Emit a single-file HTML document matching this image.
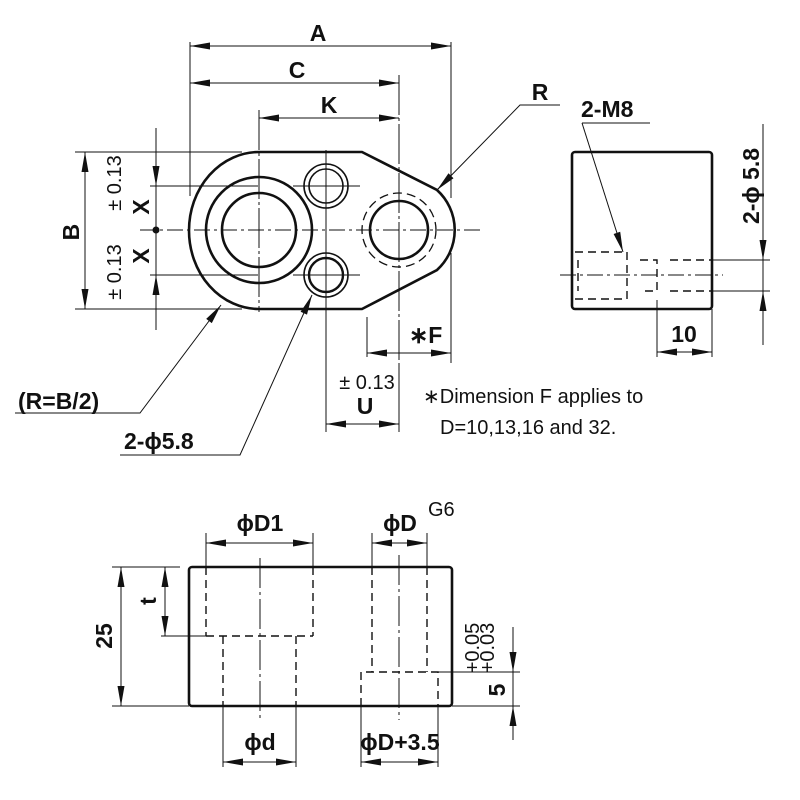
<!DOCTYPE html>
<html><head><meta charset="utf-8"><style>
html,body{margin:0;padding:0;background:#fff}
svg{display:block}
text{font-family:"Liberation Sans",Arial,sans-serif;fill:#111}
.b{font-weight:bold;font-size:23px}
.n{font-size:20px}
</style></head><body>
<svg width="800" height="800" viewBox="0 0 800 800" xmlns="http://www.w3.org/2000/svg">
<g stroke="#111" fill="none">
<g stroke-width="1">
<line x1="190" y1="42" x2="190" y2="196"/>
<line x1="451" y1="42" x2="451" y2="198"/>
<line x1="451" y1="253" x2="451" y2="363"/>
<line x1="259" y1="110" x2="259" y2="312" stroke-dasharray="40,3,3,3"/>
<line x1="399" y1="75" x2="399" y2="365" stroke-dasharray="40,3,3,3"/>
<line x1="326" y1="150" x2="326" y2="432"/>
<line x1="367" y1="317" x2="367" y2="357"/>
<line x1="399" y1="365" x2="399" y2="432"/>
<line x1="75" y1="152" x2="242" y2="152"/>
<line x1="75" y1="309" x2="242" y2="309"/>
<line x1="150" y1="186" x2="258" y2="186"/>
<line x1="150" y1="275" x2="258" y2="275"/>
<line x1="293" y1="186" x2="360" y2="186"/>
<line x1="293" y1="275" x2="360" y2="275"/>
<line x1="140" y1="230" x2="480" y2="230" stroke-dasharray="16,4,3,4"/>
<line x1="190" y1="46" x2="451" y2="46"/>
<line x1="190" y1="83" x2="399" y2="83"/>
<line x1="259" y1="118" x2="399" y2="118"/>
<line x1="85" y1="152" x2="85" y2="309"/>
<line x1="156" y1="128" x2="156" y2="330"/>
<line x1="367" y1="353" x2="451" y2="353"/>
<line x1="326" y1="424" x2="399" y2="424"/>
<polyline points="560,105 520,105 437,190"/>
<polyline points="15,413 140,413 221,305"/>
<polyline points="120,455 240,455 312,295"/>
</g>
<path d="M259,152 L362,152 L437,190 A54,54 0 0 1 437,270 L362,309 L259,309 A70,78.5 0 1 1 259,152 Z" stroke-width="2.6"/>
<circle cx="259" cy="230" r="53" stroke-width="2.6"/>
<circle cx="259" cy="230" r="37" stroke-width="2.6"/>
<circle cx="326" cy="186" r="22" stroke-width="1.6"/>
<circle cx="326" cy="186" r="17" stroke-width="1.6"/>
<circle cx="326" cy="275" r="22" stroke-width="1.6"/>
<circle cx="326" cy="275" r="17" stroke-width="2.4"/>
<circle cx="399" cy="230" r="29" stroke-width="2.6"/>
<circle cx="399" cy="230" r="37" stroke-width="1.3" stroke-dasharray="9,5"/>

<rect x="572" y="152" width="140" height="157" rx="3" stroke-width="2.6"/>
<g stroke-width="1">
<line x1="582" y1="123" x2="650" y2="123"/>
<line x1="582" y1="123" x2="623" y2="252"/>
<line x1="712" y1="260" x2="770" y2="260"/>
<line x1="712" y1="291" x2="770" y2="291"/>
<line x1="560" y1="275" x2="723" y2="275" stroke-dasharray="16,4,3,4"/>
<line x1="763" y1="124" x2="763" y2="345"/>
<line x1="657" y1="300" x2="657" y2="357"/>
<line x1="712" y1="309" x2="712" y2="357"/>
<line x1="657" y1="352" x2="712" y2="352"/>
</g>
<g stroke-width="1.4" stroke-dasharray="8,5">
<line x1="575" y1="252" x2="627" y2="252"/>
<line x1="575" y1="299" x2="627" y2="299"/>
<line x1="627" y1="252" x2="627" y2="299"/>
<line x1="578" y1="260" x2="578" y2="291"/>
<polyline points="640,260 657,260 657,291 640,291"/>
<line x1="670" y1="260" x2="712" y2="260"/>
<line x1="670" y1="291" x2="712" y2="291"/>
</g>

<rect x="189" y="567" width="263" height="139" rx="3" stroke-width="2.6"/>
<g stroke-width="1">
<line x1="112" y1="567" x2="180" y2="567"/>
<line x1="112" y1="706" x2="189" y2="706"/>
<line x1="121" y1="567" x2="121" y2="706"/>
<line x1="161" y1="636" x2="206" y2="636"/>
<line x1="165" y1="567" x2="165" y2="636"/>
<line x1="206" y1="533" x2="206" y2="567"/>
<line x1="313" y1="533" x2="313" y2="567"/>
<line x1="206" y1="543" x2="313" y2="543"/>
<line x1="372" y1="533" x2="372" y2="567"/>
<line x1="427" y1="533" x2="427" y2="567"/>
<line x1="372" y1="543" x2="427" y2="543"/>
<line x1="223" y1="706" x2="223" y2="767"/>
<line x1="296" y1="706" x2="296" y2="767"/>
<line x1="223" y1="762" x2="296" y2="762"/>
<line x1="361" y1="706" x2="361" y2="767"/>
<line x1="438" y1="706" x2="438" y2="767"/>
<line x1="361" y1="762" x2="438" y2="762"/>
<line x1="260" y1="558" x2="260" y2="722" stroke-dasharray="30,4,3,4"/>
<line x1="399" y1="555" x2="399" y2="720" stroke-dasharray="30,4,3,4"/>
<line x1="432" y1="672" x2="520" y2="672"/>
<line x1="452" y1="706" x2="520" y2="706"/>
<line x1="513" y1="627" x2="513" y2="740"/>
</g>
<g stroke-width="1.4" stroke-dasharray="8,5">
<line x1="206" y1="567" x2="206" y2="636"/>
<line x1="313" y1="567" x2="313" y2="636"/>
<line x1="206" y1="636" x2="313" y2="636"/>
<line x1="223" y1="636" x2="223" y2="706"/>
<line x1="296" y1="636" x2="296" y2="706"/>
<line x1="372" y1="567" x2="372" y2="672"/>
<line x1="427" y1="567" x2="427" y2="672"/>
<polyline points="361,706 361,672 372,672 427,672 438,672 438,706"/>
</g>
</g>
<circle cx="156" cy="230" r="3.5" fill="#111"/>

<path fill="#111" d="
M190,46 l20,-3.5 v7 z M451,46 l-20,-3.5 v7 z
M190,83 l20,-3.5 v7 z M399,83 l-20,-3.5 v7 z
M259,118 l20,-3.5 v7 z M399,118 l-20,-3.5 v7 z
M85,152 l-3.5,20 h7 z M85,309 l-3.5,-20 h7 z
M156,186 l-3.5,-20 h7 z M156,275 l-3.5,20 h7 z
M367,353 l20,-3.5 v7 z M451,353 l-20,-3.5 v7 z
M326,424 l20,-3.5 v7 z M399,424 l-20,-3.5 v7 z
M763,260 l-3.5,-20 h7 z M763,291 l-3.5,20 h7 z
M657,352 l20,-3.5 v7 z M712,352 l-20,-3.5 v7 z
M121,567 l-3.5,20 h7 z M121,706 l-3.5,-20 h7 z
M165,567 l-3.5,20 h7 z M165,636 l-3.5,-20 h7 z
M206,543 l20,-3.5 v7 z M313,543 l-20,-3.5 v7 z
M372,543 l20,-3.5 v7 z M427,543 l-20,-3.5 v7 z
M223,762 l20,-3.5 v7 z M296,762 l-20,-3.5 v7 z
M361,762 l20,-3.5 v7 z M438,762 l-20,-3.5 v7 z
M513,672 l-3.5,-20 h7 z M513,706 l-3.5,20 h7 z
M437,190 L448.5,173.2 L453.5,178.2 z
M221,305 L211.8,323.1 L206.2,318.9 z
M312,295 L307,314.6 L300.6,311.8 z
M623,252 L620.2,231.8 L613.6,234 z"/>

<text class="b" x="318" y="41" text-anchor="middle">A</text>
<text class="b" x="297" y="78" text-anchor="middle">C</text>
<text class="b" x="329" y="113" text-anchor="middle">K</text>
<text class="b" transform="translate(79,232) rotate(-90)" text-anchor="middle">B</text>
<text class="b" transform="translate(149,207) rotate(-90)" text-anchor="middle">X</text>
<text class="b" transform="translate(149,256) rotate(-90)" text-anchor="middle">X</text>
<text class="n" font-size="18" transform="translate(121,183) rotate(-90)" text-anchor="middle">± 0.13</text>
<text class="n" font-size="18" transform="translate(121,272) rotate(-90)" text-anchor="middle">± 0.13</text>
<text class="b" x="540" y="100" text-anchor="middle">R</text>
<text class="b" x="409" y="343">∗F</text>
<text class="n" font-size="18" x="367" y="389" text-anchor="middle">± 0.13</text>
<text class="b" x="365" y="414" text-anchor="middle">U</text>
<text class="b" x="18" y="409">(R=B/2)</text>
<text class="b" x="124" y="449">2-ϕ5.8</text>
<text class="n" x="423" y="403">∗Dimension F applies to</text>
<text class="n" x="440" y="434">D=10,13,16 and 32.</text>
<text class="b" x="581" y="117">2-M8</text>
<text class="b" transform="translate(759,186) rotate(-90)" text-anchor="middle">2-ϕ 5.8</text>
<text class="b" x="684" y="342" text-anchor="middle">10</text>
<text class="b" x="260" y="531" text-anchor="middle">ϕD1</text>
<text class="b" x="400" y="531" text-anchor="middle">ϕD</text>
<text class="n" font-size="16" x="428" y="516">G6</text>
<text class="b" transform="translate(112,636) rotate(-90)" text-anchor="middle">25</text>
<text class="b" transform="translate(156,601) rotate(-90)" text-anchor="middle">t</text>
<text class="b" x="260" y="750" text-anchor="middle">ϕd</text>
<text class="b" x="400" y="750" text-anchor="middle" font-size="20">ϕD+3.5</text>
<text class="b" transform="translate(505,690) rotate(-90)" text-anchor="middle">5</text>
<text class="n" font-size="14" transform="translate(479,648) rotate(-90)" text-anchor="middle">+0.05</text>
<text class="n" font-size="14" transform="translate(494,648) rotate(-90)" text-anchor="middle">+0.03</text>
</svg>
</body></html>
